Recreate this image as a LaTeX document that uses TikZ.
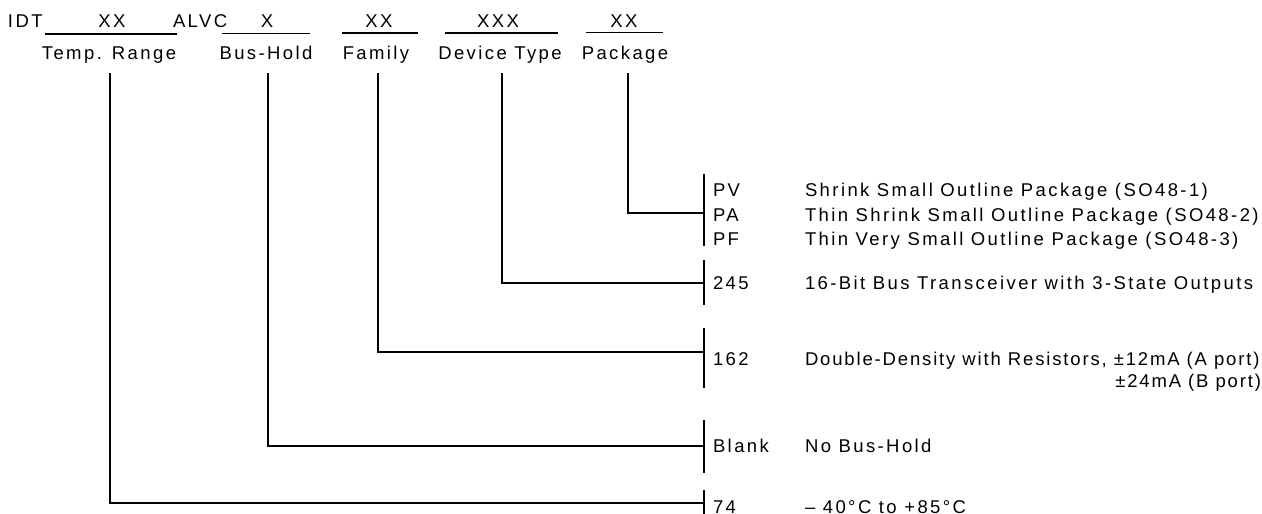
\documentclass[tikz,border=0pt]{standalone}
\usepackage{fontspec}
\setmainfont{Liberation Sans}[LetterSpace=13]
\begin{document}
\begin{tikzpicture}[x=1pt,y=-1pt,
  txt/.style={inner sep=0pt,outer sep=0pt,font=\fontsize{18.5}{21}\selectfont},
  lbl/.style={txt,anchor=base},
  code/.style={txt,anchor=base west},
  ul/.style={line width=1.5pt},
  conn/.style={line width=1.2pt},
  bar/.style={line width=1.2pt}]
\useasboundingbox (0,0) rectangle (1262,514);
% header row
\node[code] (idt) at (8,27.5) {IDT};
\node[lbl] (xx1) at (112,27.5) {XX};
\node[code] (alvc) at (173,27.5) {ALVC};
\node[lbl] (x2) at (267,27.5) {X};
\node[lbl] (xx3) at (379,27.5) {XX};
\node[lbl] (xxx4) at (498,27.5) {XXX};
\node[lbl] (xx5) at (624,27.5) {XX};
% underlines
\coordinate (u1a) at (45,34); \coordinate (u1b) at (177,34);
\coordinate (u2a) at (222,33.5); \coordinate (u2b) at (310,33.5);
\coordinate (u3a) at (342,33); \coordinate (u3b) at (418,33);
\coordinate (u4a) at (445,33); \coordinate (u4b) at (558,33);
\coordinate (u5a) at (586,32.5); \coordinate (u5b) at (663,32.5);
\draw[ul] (u1a) -- (u1b);
\draw[ul] (u2a) -- (u2b);
\draw[ul] (u3a) -- (u3b);
\draw[ul] (u4a) -- (u4b);
\draw[ul] (u5a) -- (u5b);
% field labels
\node[lbl] (temp) at (109,59) {Temp. Range};
\node[lbl] (bus) at (266,59) {Bus-Hold};
\node[lbl] (fam) at (376,59) {Family};
\node[lbl] (dev) at (500,59) {Device Type};
\node[lbl] (pkg) at (625,59) {Package};
% drop points
\coordinate (tempTop) at (110,73);
\coordinate (busTop) at (268,73);
\coordinate (famTop) at (378,73);
\coordinate (devTop) at (502,73);
\coordinate (pkgTop) at (628,73);
% bars
\coordinate (pkgBarA) at (704,174); \coordinate (pkgBarB) at (704,246);
\coordinate (devBarA) at (704,260); \coordinate (devBarB) at (704,305);
\coordinate (famBarA) at (704,328); \coordinate (famBarB) at (704,388);
\coordinate (busBarA) at (704,420); \coordinate (busBarB) at (704,473);
\coordinate (tempBarA) at (704,490); \coordinate (tempBarB) at (704,514);
\draw[bar] (pkgBarA) -- (pkgBarB);
\draw[bar] (devBarA) -- (devBarB);
\draw[bar] (famBarA) -- (famBarB);
\draw[bar] (busBarA) -- (busBarB);
\draw[bar] (tempBarA) -- (tempBarB);
% junctions on bars
\coordinate (pkgJ) at (704,213);
\coordinate (devJ) at (704,283);
\coordinate (famJ) at (704,352);
\coordinate (busJ) at (704,446);
\coordinate (tempJ) at (704,503);
% connectors
\draw[conn] (pkgTop) |- (pkgJ);
\draw[conn] (devTop) |- (devJ);
\draw[conn] (famTop) |- (famJ);
\draw[conn] (busTop) |- (busJ);
\draw[conn] (tempTop) |- (tempJ);
% options
\node[code] (pv) at (713,196.5) {PV};
\node[code] (pa) at (713,221) {PA};
\node[code] (pf) at (713,245.5) {PF};
\node[code] (pvd) at (805,196.5) {Shrink Small Outline Package (SO48-1)};
\node[code] (pad) at (805,221) {Thin Shrink Small Outline Package (SO48-2)};
\node[code] (pfd) at (805,245.5) {Thin Very Small Outline Package (SO48-3)};
\node[code] (c245) at (713,289) {245};
\node[code] (d245) at (805,289) {16-Bit Bus Transceiver with 3-State Outputs};
\node[code] (c162) at (713,365) {162};
\node[code] (d162) at (805,365) {\addfontfeatures{LetterSpace=10}Double-Density with Resistors, ±12mA (A port)};
\node[txt,anchor=base east] (d162b) at (1261,387.5) {\addfontfeatures{LetterSpace=10}±24mA (B port)};
\node[code] (cblank) at (713,452) {Blank};
\node[code] (dblank) at (805,452) {No Bus-Hold};
\node[code] (c74) at (713,513) {74};
\node[code] (d74) at (805,513) {– 40°C to +85°C};
\end{tikzpicture}
\end{document}
